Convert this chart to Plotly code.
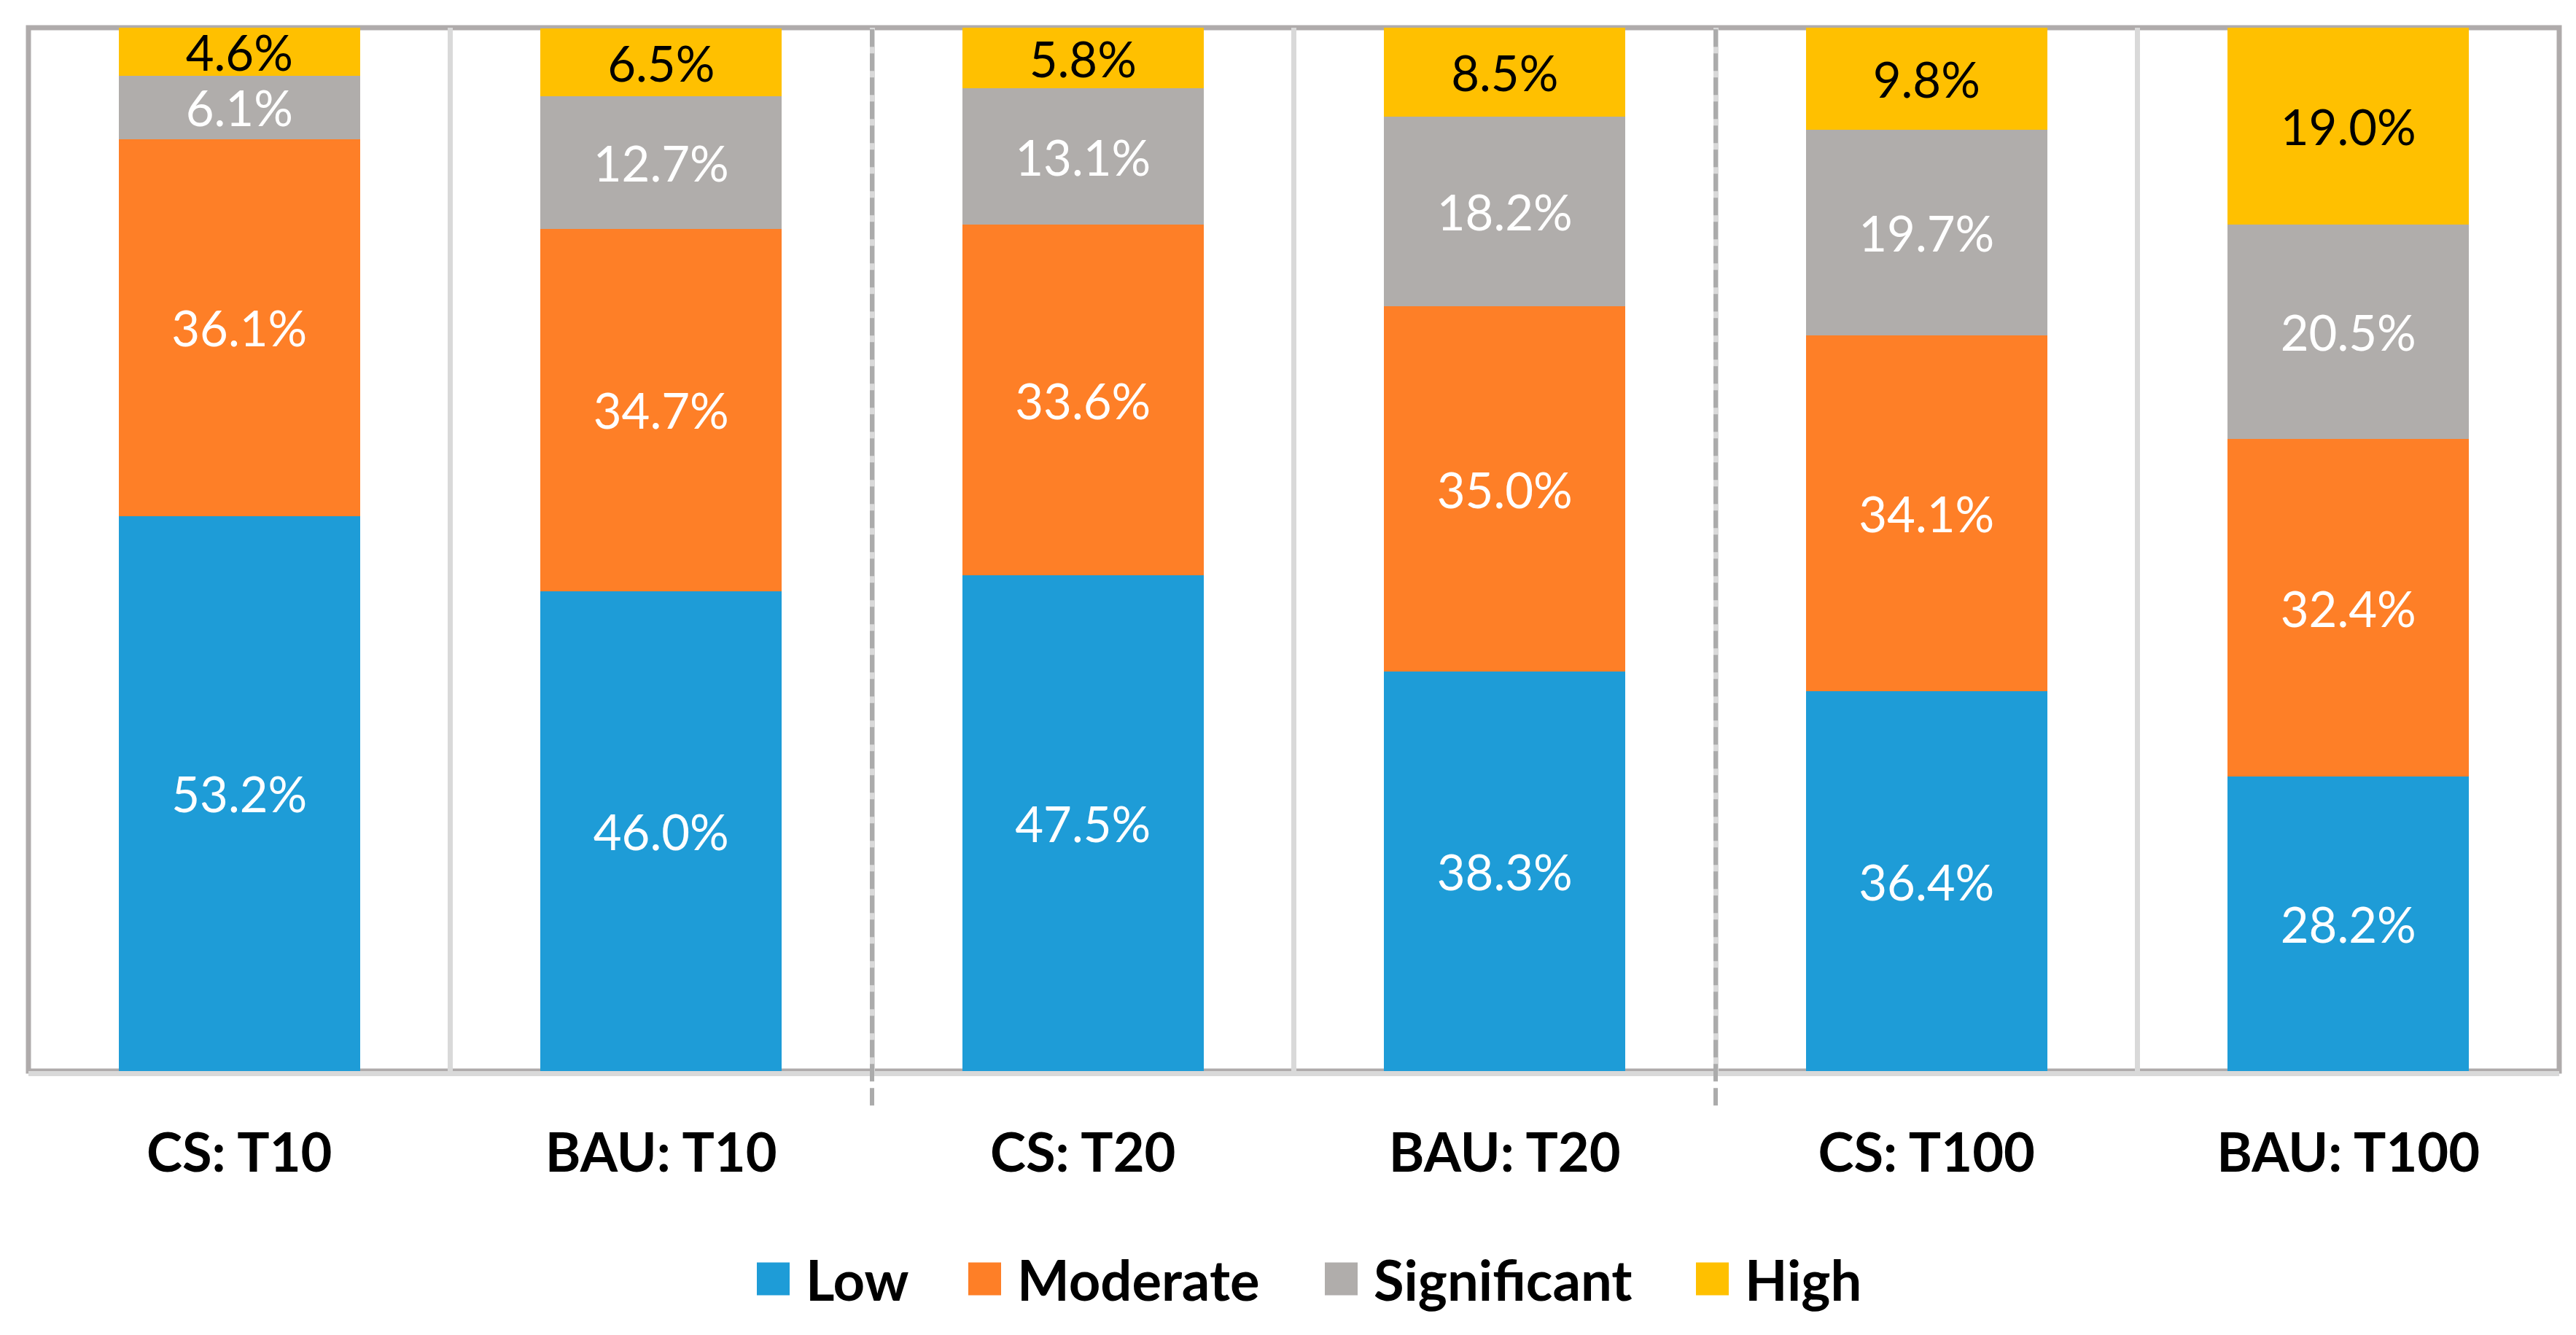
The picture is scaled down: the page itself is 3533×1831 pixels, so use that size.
import plotly.graph_objects as go

# ---------------- data ----------------
categories = ["CS: T10", "BAU: T10", "CS: T20", "BAU: T20", "CS: T100", "BAU: T100"]
series_names = ["Low", "Moderate", "Significant", "High"]
low = [53.2, 46.0, 47.5, 38.3, 36.4, 28.2]
moderate = [36.1, 34.7, 33.6, 35.0, 34.1, 32.4]
significant = [6.1, 12.7, 13.1, 18.2, 19.7, 20.5]
high = [4.6, 6.5, 5.8, 8.5, 9.8, 19.0]

# ---------------- styles ----------------
colors = ["#1E9CD7", "#FE7F27", "#B0ADAB", "#FFC000"]
text_colors = ["white", "white", "white", "black"]
FONT = "Lato"

W, H = 3533, 1831
ML, MR, MT, MB = 31, 31, 30, 370
PW = W - ML - MR
PH = H - MT - MB

fig = go.Figure()
for name, vals, col, tcol in zip(series_names, [low, moderate, significant, high], colors, text_colors):
    fig.add_trace(go.Bar(
        x=categories, y=vals, name=name,
        marker=dict(color=col, line=dict(width=0)),
        text=[f"{v:.1f}%" for v in vals],
        textposition="inside", insidetextanchor="middle", textangle=0,
        constraintext="none",
        textfont=dict(family=FONT, size=67, color=tcol),
        hoverinfo="skip", showlegend=False,
    ))

shapes = []
# frame (top/left/right darker grey)
shapes.append(dict(type="rect", xref="paper", yref="paper", x0=0, x1=1, y0=0, y1=1,
                   line=dict(color="#AFABAB", width=7), layer="below"))
# dashed separators between groups
for i in range(2, len(categories), 2):
    shapes.append(dict(type="line", xref="x", yref="paper", x0=i - 0.5, x1=i - 0.5,
                       y0=-0.033, y1=1,
                       line=dict(color="#ABABAB", width=6, dash="24px,9px"), layer="above"))

# manual legend (large square markers)
leg_sq_left = [1030, 1320, 1809, 2318]
leg_y = 1746
sq = 45
annotations = []
for name, col, xl in zip(series_names, colors, leg_sq_left):
    shapes.append(dict(type="rect", xref="paper", yref="paper",
                       x0=(xl - ML) / PW, x1=(xl + sq - ML) / PW,
                       y0=(H - MB - (leg_y + sq / 2)) / PH, y1=(H - MB - (leg_y - sq / 2)) / PH,
                       fillcolor=col, line=dict(width=0)))
    annotations.append(dict(xref="paper", yref="paper",
                            x=(xl + sq + 20 - ML) / PW, y=(H - MB - leg_y) / PH,
                            text=f"<b>{name}</b>", showarrow=False,
                            xanchor="left", yanchor="middle",
                            font=dict(family=FONT, size=76, color="black")))

fig.update_layout(
    width=W, height=H,
    margin=dict(l=ML, r=MR, t=MT, b=MB),
    barmode="stack", bargap=0.427,
    plot_bgcolor="white", paper_bgcolor="white",
    shapes=shapes, annotations=annotations,
    showlegend=False,
)
fig.update_xaxes(
    type="category", tickson="boundaries",
    showgrid=True, gridcolor="#D9D9D9", gridwidth=7,
    showline=True, linecolor="#D9D9D9", linewidth=7,
    ticks="", ticklabelstandoff=42,
    tickfont=dict(family=FONT, size=74, color="black", weight="bold"),
)
fig.update_yaxes(range=[0, 100], showgrid=False, showticklabels=False, zeroline=False, showline=False)

fig.write_html("out.html")
